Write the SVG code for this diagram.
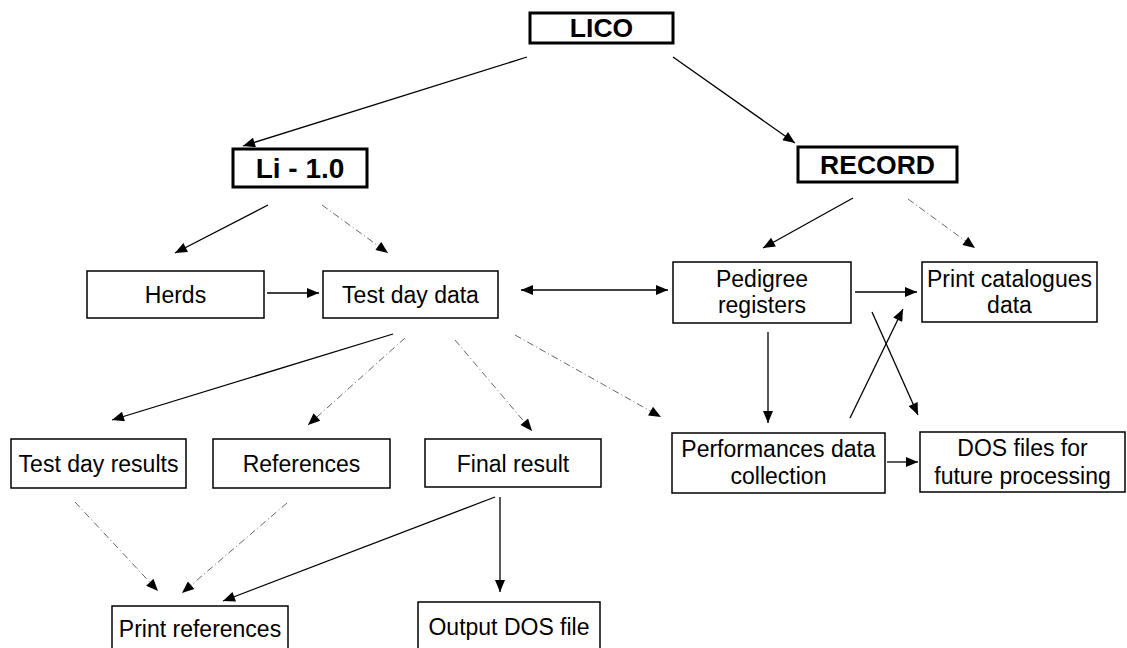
<svg xmlns="http://www.w3.org/2000/svg" width="1127" height="648" viewBox="0 0 1127 648">
  <defs>
    <marker id="arrow" viewBox="0 0 12 10" refX="12" refY="5" markerWidth="13" markerHeight="10" markerUnits="userSpaceOnUse" orient="auto-start-reverse">
      <path d="M0,0 L12,5 L0,10 Z" fill="#000"/>
    </marker>
    <style>
      .title rect { fill: #fff; stroke: #000; stroke-width: 3; }
      .title text { font-family: "Liberation Sans", Arial, sans-serif; font-weight: bold; font-size: 26.5px; text-anchor: middle; fill: #000; }
      .box rect { fill: #fff; stroke: #000; stroke-width: 1.5; }
      .box text { font-family: "Liberation Sans", Arial, sans-serif; font-size: 23px; text-anchor: middle; fill: #000; }
      .solid { stroke: #000; stroke-width: 1.3; fill: none; marker-end: url(#arrow); }
      .dashed { stroke: #666; stroke-width: 1; fill: none; stroke-dasharray: 7 3 1 3; marker-end: url(#arrow); }
    </style>
  </defs>
  <rect width="1127" height="648" fill="#fff"/>

  <!-- connectors -->
  <g id="connectors">
    <line class="solid" x1="527" y1="57" x2="243" y2="146"/>
    <line class="solid" x1="673" y1="57" x2="795" y2="143"/>
    <line class="solid" x1="268" y1="205" x2="175" y2="253"/>
    <line class="dashed" x1="322" y1="205" x2="388" y2="253"/>
    <line class="solid" x1="853" y1="198" x2="763" y2="248"/>
    <line class="dashed" x1="908" y1="199" x2="975" y2="248"/>
    <line class="solid" x1="267" y1="293" x2="319" y2="293"/>
    <line class="solid" x1="521" y1="290" x2="668" y2="290" marker-start="url(#arrow)"/>
    <line class="solid" x1="855" y1="292" x2="917" y2="292"/>
    <line class="solid" x1="393" y1="334" x2="112" y2="420"/>
    <line class="dashed" x1="405" y1="338" x2="308" y2="425"/>
    <line class="dashed" x1="455" y1="340" x2="532" y2="431"/>
    <line class="dashed" x1="515" y1="335" x2="661" y2="417"/>
    <line class="solid" x1="768" y1="332" x2="768" y2="423"/>
    <line class="solid" x1="850" y1="418" x2="903" y2="309"/>
    <line class="solid" x1="872" y1="312" x2="918" y2="415"/>
    <line class="solid" x1="887" y1="462" x2="918" y2="462"/>
    <line class="dashed" x1="75" y1="502" x2="158" y2="591"/>
    <line class="dashed" x1="287" y1="503" x2="182" y2="593"/>
    <line class="solid" x1="495" y1="497" x2="223" y2="601"/>
    <line class="solid" x1="500" y1="497" x2="500" y2="592"/>
  </g>

  <!-- nodes -->
  <g id="lico" class="title">
    <rect x="530" y="13" width="143" height="30"/>
    <text x="601.5" y="37">LICO</text>
  </g>
  <g id="li10" class="title">
    <rect x="233" y="149" width="134" height="38"/>
    <text x="300" y="178" style="font-size:28px">Li - 1.0</text>
  </g>
  <g id="record" class="title">
    <rect x="798" y="147" width="159" height="35"/>
    <text x="877.5" y="174">RECORD</text>
  </g>
  <g id="herds" class="box">
    <rect x="87" y="271" width="177" height="47"/>
    <text x="175.5" y="303">Herds</text>
  </g>
  <g id="testdaydata" class="box">
    <rect x="323" y="271" width="175" height="47"/>
    <text x="410.5" y="303">Test day data</text>
  </g>
  <g id="pedigree" class="box">
    <rect x="673" y="262" width="178" height="61"/>
    <text x="762" y="287">Pedigree</text>
    <text x="762" y="313">registers</text>
  </g>
  <g id="printcatalogues" class="box">
    <rect x="922" y="262" width="175" height="60"/>
    <text x="1009.5" y="287">Print catalogues</text>
    <text x="1009.5" y="313">data</text>
  </g>
  <g id="testdayresults" class="box">
    <rect x="11" y="439" width="175" height="49"/>
    <text x="98.5" y="472">Test day results</text>
  </g>
  <g id="references" class="box">
    <rect x="213" y="439" width="177" height="49"/>
    <text x="301.5" y="472">References</text>
  </g>
  <g id="finalresult" class="box">
    <rect x="425" y="439" width="176" height="48"/>
    <text x="513" y="472">Final result</text>
  </g>
  <g id="performances" class="box">
    <rect x="672" y="433" width="213" height="60"/>
    <text x="778.5" y="457">Performances data</text>
    <text x="778.5" y="484">collection</text>
  </g>
  <g id="dosfiles" class="box">
    <rect x="920" y="432" width="205" height="60"/>
    <text x="1022.5" y="456">DOS files for</text>
    <text x="1022.5" y="484">future processing</text>
  </g>
  <g id="printreferences" class="box">
    <rect x="112" y="606" width="176" height="46"/>
    <text x="200" y="637">Print references</text>
  </g>
  <g id="outputdos" class="box">
    <rect x="418" y="602" width="182" height="50"/>
    <text x="509" y="635">Output DOS file</text>
  </g>
</svg>
